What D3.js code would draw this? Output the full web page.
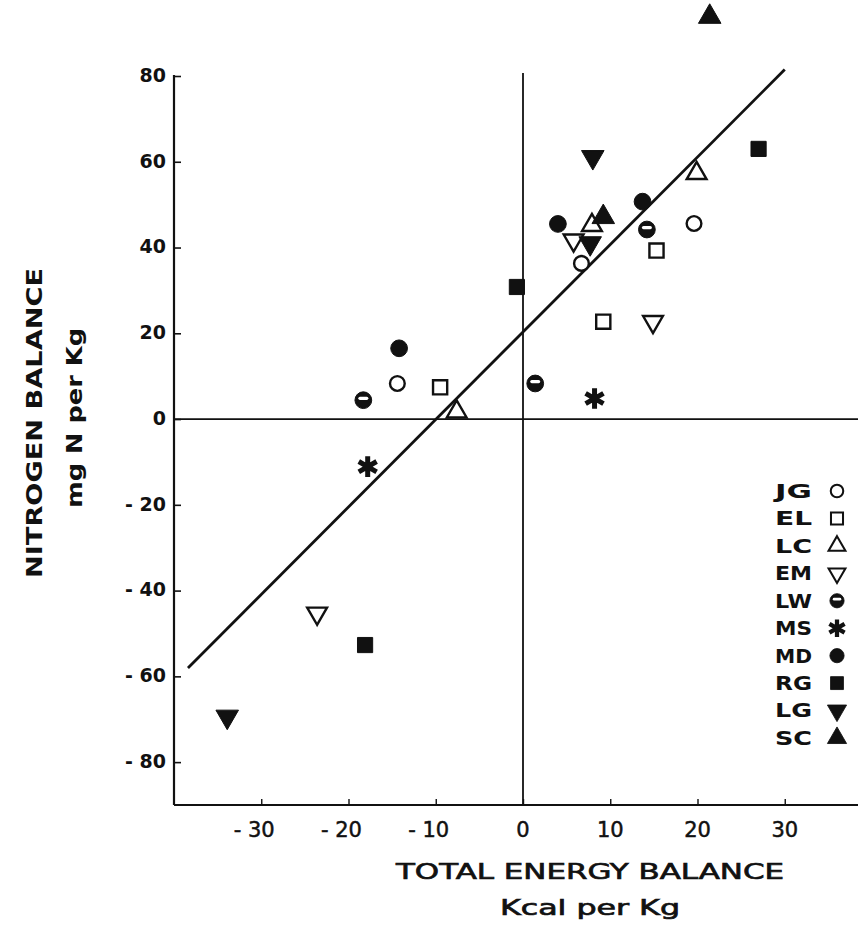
<!DOCTYPE html>
<html>
<head>
<meta charset="utf-8">
<script src="https://cdn.jsdelivr.net/npm/d3@7"></script>
<style>
  body { margin: 0; background: #fff; }
  svg { display: block; }
  text { font-family: "DejaVu Sans", sans-serif; fill: #111; }
</style>
</head>
<body>
<svg width="858" height="925"></svg>
<script>
//  Nitrogen balance vs total energy balance, one series per subject

const subjects = ['JG', 'EL', 'LC', 'EM', 'LW', 'MS', 'MD', 'RG', 'LG', 'SC'];

//  [energy balance, nitrogen balance] per subject
const jgPoints = [[-14.4, 8.3], [6.7, 36.3], [19.6, 45.6]];
const elPoints = [[-9.5, 7.4], [9.2, 22.7], [15.3, 39.3]];
const lcPoints = [[-7.6, 1.7], [7.9, 45.2], [19.9, 57.3]];
const emPoints = [[-23.6, -45.3], [5.8, 41.7], [14.9, 22.7]];
const lwPoints = [[-18.3, 4.4], [1.4, 8.3], [14.2, 44.2]];
const msPoints = [[-17.8, -11.1], [8.2, 4.8]];
const mdPoints = [[-14.2, 16.5], [4.0, 45.5], [13.7, 50.7]];
const rgPoints = [[-18.1, -52.7], [-0.7, 30.8], [27.0, 63.0]];
const lgPoints = [[-33.9, -69.4], [8.0, 61.1], [7.7, 41.0]];
const scPoints = [[21.4, 93.8], [9.2, 47.1]];

const seriesPoints = [jgPoints, elPoints, lcPoints, emPoints, lwPoints,
                      msPoints, mdPoints, rgPoints, lgPoints, scPoints];

//  regression line: N = a + b * E, drawn between these energy values
const fitIntercept = 20.3;
const fitSlope = 2.04;
const fitRange = [-38.4, 30.0];

const xTicks = [-30, -20, -10, 0, 10, 20, 30];
const xTickLabels = ['- 30', '- 20', '- 10', '0', '10', '20', '30'];
const yTicks = [80, 60, 40, 20, 0, -20, -40, -60, -80];
const yTickLabels = ['80', '60', '40', '20', '0', '- 20', '- 40', '- 60', '- 80'];


const svg = d3.select('svg');

const x = d3.scaleLinear().domain([-40, 40]).range([174, 872]);
const y = d3.scaleLinear().domain([-90, 80]).range([805, 76]);

const axes = svg.append('g').attr('id', 'axes');
const marks = svg.append('g').attr('id', 'marks');
const legend = svg.append('g').attr('id', 'legend');

//============ AXES =========================
//  left axis, drawn with d3.axisRight so the ticks point into the plot
const yAxis = axes.append('g')
    .attr('transform', `translate(${x(-40)},0)`)
    .call(d3.axisRight(y).tickValues(yTicks).tickSize(7).tickSizeOuter(0).tickFormat(''));
yAxis.select('.domain').remove();
yAxis.selectAll('.tick line').attr('stroke', '#111').attr('stroke-width', 1.6);

axes.append('line')
    .attr('x1', x(-40)).attr('x2', x(-40))
    .attr('y1', y(80) - 1).attr('y2', y(-90))
    .attr('stroke', '#111').attr('stroke-width', 2.2);

axes.selectAll('.ylab')
    .data(yTicks)
    .join('text')
    .attr('class', 'ylab')
    .attr('x', 166)
    .attr('y', d => y(d) - 1)
    .attr('dy', '0.36em')
    .attr('text-anchor', 'end')
    .style('font-size', '19px')
    .style('font-weight', 'bold')
    .text((d, i) => yTickLabels[i]);

//  bottom axis, ticks point upward
const xAxis = axes.append('g')
    .attr('transform', `translate(0,${y(-90)})`)
    .call(d3.axisTop(x).tickValues(xTicks).tickSize(6).tickSizeOuter(0).tickFormat(''));
xAxis.select('.domain').remove();
xAxis.selectAll('.tick line').attr('stroke', '#111').attr('stroke-width', 1.4);

axes.append('line')
    .attr('x1', x(-40)).attr('x2', 858)
    .attr('y1', y(-90)).attr('y2', y(-90))
    .attr('stroke', '#111').attr('stroke-width', 2.2);

axes.selectAll('.xlab')
    .data(xTicks)
    .join('text')
    .attr('class', 'xlab')
    .attr('x', d => x(d) - (d < 0 ? 7 : 0))
    .attr('y', 837)
    .attr('text-anchor', 'middle')
    .style('font-size', '21px')
    .style('stroke', '#111').style('stroke-width', 0.5)
    .text((d, i) => xTickLabels[i]);

//  zero lines
axes.append('line')
    .attr('x1', x(0)).attr('x2', x(0))
    .attr('y1', y(80) - 3).attr('y2', y(-90))
    .attr('stroke', '#111').attr('stroke-width', 1.8);
axes.append('line')
    .attr('x1', x(-40)).attr('x2', 858)
    .attr('y1', y(0)).attr('y2', y(0))
    .attr('stroke', '#111').attr('stroke-width', 1.8);

//  axis titles
axes.append('text')
    .attr('x', 590).attr('y', 879)
    .attr('text-anchor', 'middle')
    .attr('textLength', 388).attr('lengthAdjust', 'spacingAndGlyphs')
    .style('font-size', '22px')
    .style('stroke', '#111').style('stroke-width', 0.7)
    .text('TOTAL ENERGY BALANCE');
axes.append('text')
    .attr('x', 590).attr('y', 915)
    .attr('text-anchor', 'middle')
    .attr('textLength', 180).attr('lengthAdjust', 'spacingAndGlyphs')
    .style('font-size', '21px')
    .style('stroke', '#111').style('stroke-width', 0.7)
    .text('Kcal per Kg');

axes.append('text')
    .attr('transform', 'translate(42,423) rotate(-90)')
    .attr('text-anchor', 'middle')
    .attr('textLength', 310).attr('lengthAdjust', 'spacingAndGlyphs')
    .style('font-size', '22px')
    .style('font-weight', 'bold')
    .text('NITROGEN BALANCE');
axes.append('text')
    .attr('transform', 'translate(82,418) rotate(-90)')
    .attr('text-anchor', 'middle')
    .attr('textLength', 180).attr('lengthAdjust', 'spacingAndGlyphs')
    .style('font-size', '21px')
    .style('font-weight', 'bold')
    .text('mg N per Kg');

//============ REGRESSION LINE =========================
const fitLine = d3.line().x(d => x(d)).y(d => y(fitIntercept + fitSlope * d));
marks.append('path')
    .attr('d', fitLine(fitRange))
    .attr('fill', 'none')
    .attr('stroke', '#111')
    .attr('stroke-width', 2.8);

//============ MARKERS =========================
//  draws the marker of subject i into group g, centred on 0,0
function drawMarker(g, i) {
    const name = subjects[i];
    const open = { fill: '#fff', stroke: '#111', 'stroke-width': 2.4 };
    const solid = { fill: '#111', stroke: '#111', 'stroke-width': 1 };
    const apply = (sel, st) => { Object.entries(st).forEach(([k, v]) => sel.attr(k, v)); return sel; };

    if (name === 'JG') apply(g.append('path').attr('d', d3.symbol(d3.symbolCircle, 170)()), open);
    if (name === 'EL') apply(g.append('path').attr('d', d3.symbol(d3.symbolSquare, 200)()), open);
    if (name === 'LC') apply(g.append('path').attr('d', d3.symbol(d3.symbolTriangle, 170)()), open);
    if (name === 'EM') apply(g.append('path').attr('d', d3.symbol(d3.symbolTriangle, 170)())
        .attr('transform', 'rotate(180)'), open);
    if (name === 'LW') {
        apply(g.append('path').attr('d', d3.symbol(d3.symbolCircle, 220)()), solid);
        g.append('rect').attr('x', -5).attr('y', -3.5).attr('width', 10).attr('height', 3.2)
            .attr('rx', 1.6).attr('fill', '#fff');
    }
    if (name === 'MS') g.append('path').attr('d', d3.symbol(d3.symbolAsterisk, 300)())
        .attr('fill', 'none').attr('stroke', '#111').attr('stroke-width', 5);
    if (name === 'MD') apply(g.append('path').attr('d', d3.symbol(d3.symbolCircle, 220)()), solid);
    if (name === 'RG') apply(g.append('path').attr('d', d3.symbol(d3.symbolSquare, 230)()), solid);
    if (name === 'LG') apply(g.append('path').attr('d', d3.symbol(d3.symbolTriangle, 220)())
        .attr('transform', 'rotate(180)'), solid);
    if (name === 'SC') apply(g.append('path').attr('d', d3.symbol(d3.symbolTriangle, 220)()), solid);
}

seriesPoints.forEach((pts, i) => {
    marks.selectAll(null)
        .data(pts)
        .join('g')
        .attr('class', 'pt pt-' + subjects[i])
        .attr('transform', d => `translate(${x(d[0])},${y(d[1])})`)
        .each(function () { drawMarker(d3.select(this), i); });
});

//============ LEGEND =========================
const legendRow = d3.scalePoint().domain(subjects).range([491, 738]);

const rows = legend.selectAll('g')
    .data(subjects)
    .join('g')
    .attr('transform', d => `translate(0,${legendRow(d)})`);

rows.append('text')
    .attr('x', 775)
    .attr('dy', '0.36em')
    .attr('textLength', 37).attr('lengthAdjust', 'spacingAndGlyphs')
    .style('font-size', '19px')
    .style('font-weight', 'bold')
    .text(d => d);

rows.append('g')
    .attr('transform', 'translate(837,0) scale(0.85)')
    .each(function (d, i) { drawMarker(d3.select(this), i); });
</script>
</body>
</html>
